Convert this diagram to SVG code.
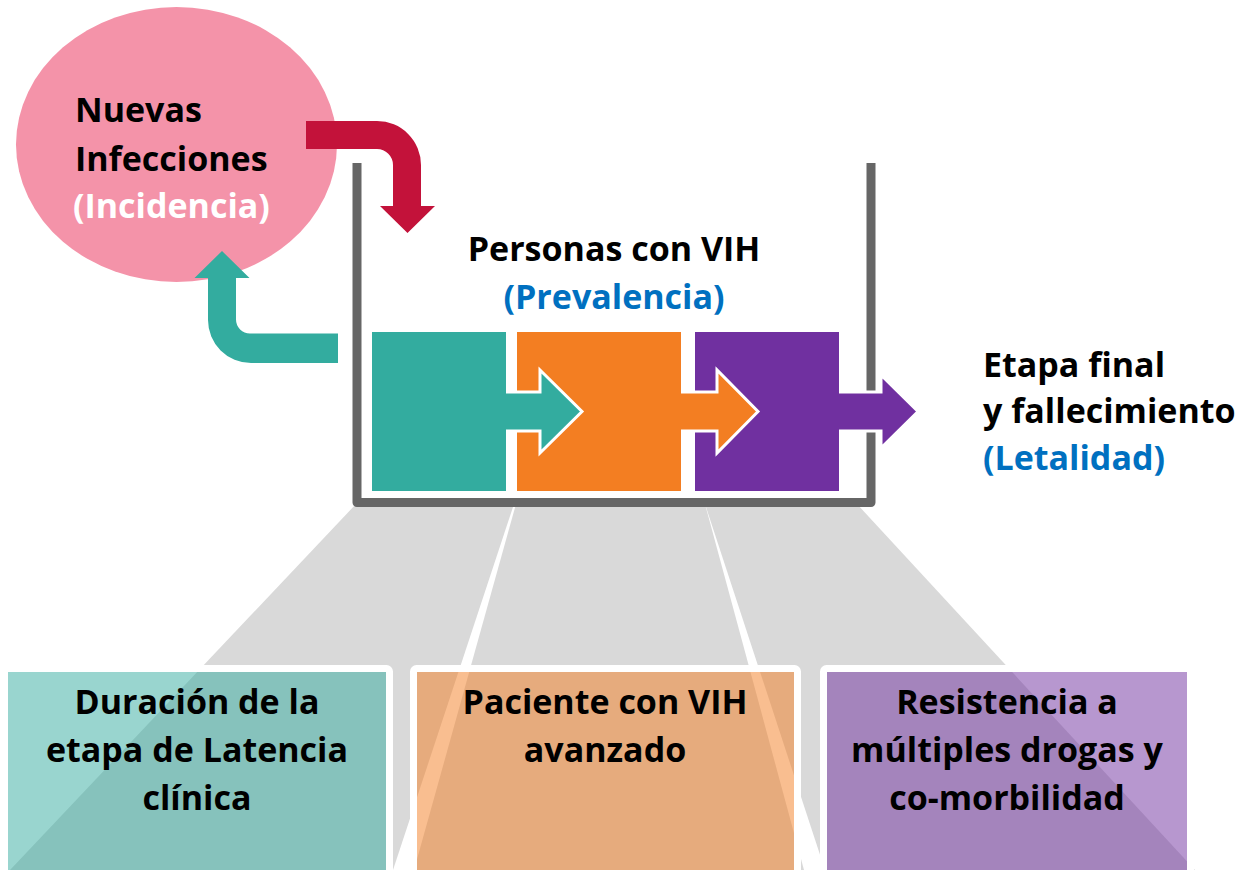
<svg xmlns="http://www.w3.org/2000/svg" width="1237" height="870" viewBox="0 0 1237 870">
<style>
  text { font-family: "Open Sans", "Noto Sans", "Liberation Sans", sans-serif; font-weight: 700; font-size: 34px; fill: #000; }
  .blue { fill: #0070C0; }
  .wht { fill: #fff; }
  .mid { text-anchor: middle; }
  .poly { fill: #D9D9D9; }
  .frame { fill: none; stroke: #fff; stroke-width: 7; }
  .outline { fill: none; stroke: #fff; stroke-width: 3; stroke-linejoin: miter; }
  .teal { fill: #33AC9F; }
  .orange { fill: #F37E22; }
  .purple { fill: #7030A0; }
</style>
<rect width="1237" height="870" fill="#fff"/>

<g id="funnels">
  <polygon class="poly" points="356,504 514,504 393,870 10,870"/>
  <polygon class="poly" points="516,504 705,504 804,870 414,870"/>
  <polygon class="poly" points="705,504 857,504 1195,870 825,870"/>
</g>

<g id="box-latencia">
  <rect class="frame" x="4.5" y="668.5" width="385" height="220" rx="3"/>
  <rect x="8" y="672" width="378" height="210" class="teal" fill-opacity="0.5"/>
  <text class="mid" x="197" y="714">Duración de la</text>
  <text class="mid" x="197" y="762">etapa de Latencia</text>
  <text class="mid" x="197" y="810">clínica</text>
</g>
<g id="box-avanzado">
  <rect class="frame" x="413.5" y="668.5" width="384" height="220" rx="3"/>
  <rect x="417" y="672" width="377" height="210" class="orange" fill-opacity="0.5"/>
  <text class="mid" x="605" y="714">Paciente con VIH</text>
  <text class="mid" x="605" y="762">avanzado</text>
</g>
<g id="box-resistencia">
  <rect class="frame" x="823.5" y="668.5" width="367" height="220" rx="3"/>
  <rect x="827" y="672" width="360" height="210" class="purple" fill-opacity="0.5"/>
  <text class="mid" x="1007" y="714">Resistencia a</text>
  <text class="mid" x="1007" y="762">múltiples drogas y</text>
  <text class="mid" x="1007" y="810">co-morbilidad</text>
</g>

<g id="incidencia">
  <ellipse cx="176.5" cy="144.5" rx="160.5" ry="137.5" fill="#F493A9"/>
  <text x="75" y="122">Nuevas</text>
  <text x="75" y="171">Infecciones</text>
  <text class="wht" x="73" y="218">(Incidencia)</text>
</g>

<g id="container">
  <path d="M357,163 V502.5 H871 V163" fill="none" stroke="#666666" stroke-width="9" stroke-linejoin="round"/>
  <text class="mid" x="614" y="261">Personas con VIH</text>
  <text class="mid blue" x="614" y="309">(Prevalencia)</text>
</g>

<g id="stages">
  <rect x="517" y="332" width="164" height="159" class="orange"/>
  <polygon class="teal" points="500,392 540,392 540,370 582,411.5 540,453 540,431 500,431"/>
  <polyline class="outline" points="506,392 540,392 540,370 582,411.5 540,453 540,431 506,431"/>
  <rect x="372" y="332" width="134" height="159" class="teal"/>
  <rect x="695" y="332" width="144" height="159" class="purple"/>
  <polygon class="orange" points="675,392 717,392 717,370 758,411.5 717,453 717,431 675,431"/>
  <polyline class="outline" points="681,392 717,392 717,370 758,411.5 717,453 717,431 681,431"/>
  <polygon class="purple" points="833,392 881,392 881,375 918,411.5 881,448 881,431 833,431"/>
  <polyline class="outline" points="839,392 881,392 881,375 918,411.5 881,448 881,431 839,431"/>
</g>

<g id="connectors">
  <path d="M306,121 H377 A44,44 0 0 1 421,165 V206 H435 L407.5,233 L380,206 H393 V165 A16,16 0 0 0 377,149 H306 Z" fill="#C3123A"/>
  <path d="M338,333.5 H250 A14,14 0 0 1 236,319.5 V278 H249.5 L222,251 L194.5,278 H208 V320 A43,43 0 0 0 251,363 H338 Z" fill="#33AC9F"/>
</g>

<g id="letalidad">
  <text x="983" y="377">Etapa final</text>
  <text x="983" y="423">y fallecimiento</text>
  <text class="blue" x="983" y="470">(Letalidad)</text>
</g>
</svg>
